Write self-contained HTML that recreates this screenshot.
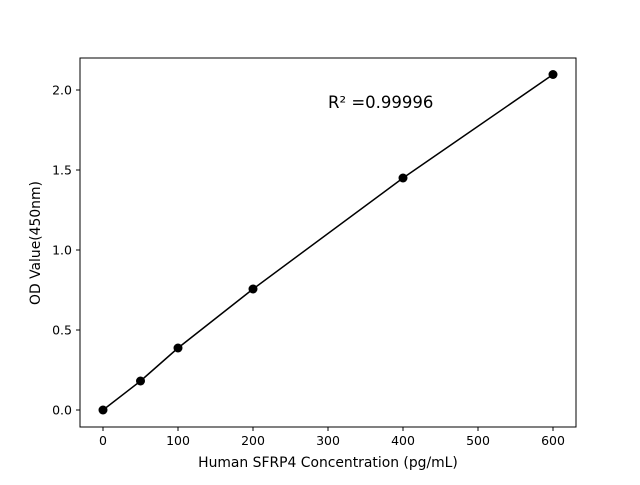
<!DOCTYPE html>
<html><head><meta charset="utf-8"><style>body{margin:0;background:#fff}</style></head><body>
<svg width="640" height="480" xmlns="http://www.w3.org/2000/svg" font-family="DejaVu Sans, sans-serif">
<rect width="640" height="480" fill="#fff"/>
<rect x="80" y="58" width="496" height="369" fill="none" stroke="#000" stroke-width="1"/>
<g stroke="#000" stroke-width="1">
<line x1="103" y1="427" x2="103" y2="431"/><line x1="178" y1="427" x2="178" y2="431"/><line x1="253" y1="427" x2="253" y2="431"/><line x1="328" y1="427" x2="328" y2="431"/><line x1="403" y1="427" x2="403" y2="431"/><line x1="478" y1="427" x2="478" y2="431"/><line x1="553" y1="427" x2="553" y2="431"/>
<line x1="76" y1="410" x2="80" y2="410"/><line x1="76" y1="330" x2="80" y2="330"/><line x1="76" y1="250" x2="80" y2="250"/><line x1="76" y1="170" x2="80" y2="170"/><line x1="76" y1="90" x2="80" y2="90"/>
</g>
<g font-size="12.5" text-anchor="middle" fill="#000">
<text x="103" y="445">0</text><text x="178" y="445">100</text><text x="253" y="445">200</text><text x="328" y="445">300</text><text x="403" y="445">400</text><text x="478" y="445">500</text><text x="553" y="445">600</text>
</g>
<g font-size="12.5" text-anchor="end" fill="#000">
<text x="72" y="414.5">0.0</text><text x="72" y="334.5">0.5</text><text x="72" y="254.5">1.0</text><text x="72" y="174.5">1.5</text><text x="72" y="94.5">2.0</text>
</g>
<text x="328" y="467" font-size="13.9" text-anchor="middle">Human SFRP4 Concentration (pg/mL)</text>
<text transform="translate(40,243) rotate(-90)" font-size="13.9" text-anchor="middle">OD Value(450nm)</text>
<text x="328" y="108" font-size="16.5">R² =0.99996</text>
<polyline fill="none" stroke="#000" stroke-width="1.5" points="103,410 140.5,381 178,348 253,289 403,178 553,74.5"/>
<g fill="#000"><circle cx="103" cy="410" r="4.5"/><circle cx="140.5" cy="381" r="4.5"/><circle cx="178" cy="348" r="4.5"/><circle cx="253" cy="289" r="4.5"/><circle cx="403" cy="178" r="4.5"/><circle cx="553" cy="74.5" r="4.5"/></g>
</svg>
</body></html>
